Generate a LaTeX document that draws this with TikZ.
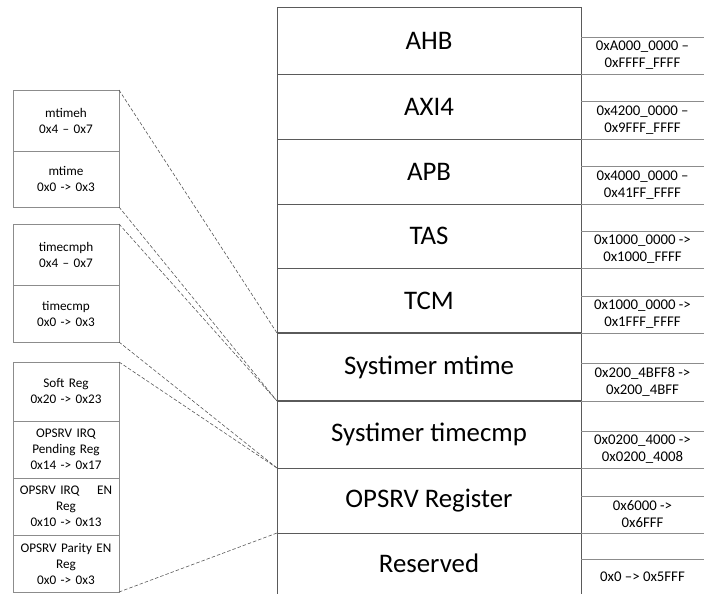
\documentclass[tikz,border=0pt]{standalone}
\usepackage{fontspec}
\setmainfont{Carlito}
\definecolor{mainline}{HTML}{5A5A5A}
\definecolor{sideline}{HTML}{8C8C8C}
\definecolor{dashline}{HTML}{595959}
\tikzset{
  mrow/.style={draw=mainline, line width=0.8pt, rectangle, inner sep=0pt, outer sep=0pt,
    minimum width=304pt, anchor=north west, font=\fontsize{26.8}{32}\selectfont},
  addr/.style={rectangle, inner sep=0pt, outer sep=0pt, minimum width=123pt,
    anchor=north west, align=center, font=\fontsize{14.8}{17}\selectfont},
  reg/.style={draw=sideline, line width=0.8pt, rectangle, inner sep=0pt, outer sep=0pt,
    minimum width=106pt, text width=104pt, anchor=north west, align=center,
    font=\fontsize{13.2}{16}\selectfont},
  link/.style={draw=dashline, line width=0.6pt, dash pattern=on 3.5pt off 2pt},
  addrline/.style={draw=sideline, line width=0.8pt},
}
\begin{document}
\begin{tikzpicture}[x=1pt,y=-1pt]
\useasboundingbox (0,0) rectangle (704,594);

% main memory map column
\node[mrow, minimum height=67pt] (ahb)  at (277,7)   {AHB};
\node[mrow, minimum height=65pt] (axi)  at (277,74)  {AXI4};
\node[mrow, minimum height=65pt] (apb)  at (277,139) {APB};
\node[mrow, minimum height=64pt] (tas)  at (277,204) {TAS};
\node[mrow, minimum height=65pt] (tcm)  at (277,268) {TCM};
\node[mrow, minimum height=68pt] (tms)  at (277,333) {Systimer mtime};
\node[mrow, minimum height=67pt] (tcmp) at (277,401) {Systimer timecmp};
\node[mrow, minimum height=65pt] (opsrv) at (277,468) {OPSRV Register};
\node[mrow, draw=none, minimum height=61pt] (res) at (277,533) {Reserved};
\draw[mainline, line width=0.8pt] (res.north west) -- (res.south west)
  (res.north east) -- (res.south east);
\draw[mainline, line width=1.6pt] (tms.north west) -- (tms.north east)
  (tms.south west) -- (tms.south east);

% address ranges
\node[addr, minimum height=37pt] (a1) at (581,37)  {0xA000\_0000 –\\0xFFFF\_FFFF};
\node[addr, minimum height=38pt] (a2) at (581,101) {0x4200\_0000 –\\0x9FFF\_FFFF};
\node[addr, minimum height=38pt] (a3) at (581,166) {0x4000\_0000 –\\0x41FF\_FFFF};
\node[addr, minimum height=37pt] (a4) at (581,231) {0x1000\_0000 ->\\0x1000\_FFFF};
\node[addr, minimum height=37pt] (a5) at (581,296) {0x1000\_0000 ->\\0x1FFF\_FFFF};
\node[addr, minimum height=38pt] (a6) at (581,363) {0x200\_4BFF8 ->\\0x200\_4BFF};
\node[addr, minimum height=37pt] (a7) at (581,431) {0x0200\_4000 ->\\0x0200\_4008};
\node[addr, minimum height=37pt] (a8) at (581,496) {0x6000 ->\\0x6FFF};
\node[addr, minimum height=35pt] (a9) at (581,559) {0x0 –> 0x5FFF};
\foreach \n in {a1,a2,a3,a4,a5,a6,a7,a8}
  \draw[addrline] (\n.north west) -- (\n.north east) (\n.south west) -- (\n.south east);
\draw[addrline] (a9.north west) -- (a9.north east);

% timer registers
\node[reg, minimum height=61pt] (mtimeh) at (13,90)  {mtimeh\\0x4 – 0x7};
\node[reg, minimum height=56pt] (mtime)  at (13,151) {mtime\\0x0 -> 0x3};
\node[reg, minimum height=61pt] (cmph)   at (13,224) {timecmph\\0x4 – 0x7};
\node[reg, minimum height=57pt] (cmpl)   at (13,285) {timecmp\\0x0 -> 0x3};

% OPSRV registers
\node[reg, minimum height=59pt] (soft)   at (13,362) {Soft Reg\\0x20 -> 0x23};
\node[reg, minimum height=57pt] (pend)   at (13,421) {OPSRV IRQ\\Pending Reg\\0x14 -> 0x17};
\node[reg, minimum height=57pt] (irqen)  at (13,478) {OPSRV IRQ\hspace{1em} EN\\Reg\\0x10 -> 0x13};
\node[reg, minimum height=57pt] (parity) at (13,535) {OPSRV Parity EN\\Reg\\0x0 -> 0x3};

% expansion links
\draw[link] (mtimeh.north east) -- (tms.north west);
\draw[link] (mtime.south east) -- (tms.south west);
\draw[link] (cmph.north east) -- (tcmp.north west);
\draw[link] (cmpl.south east) -- (tcmp.south west);
\draw[link] (soft.north east) -- (opsrv.north west);
\draw[link] (parity.south east) -- (opsrv.south west);
\end{tikzpicture}
\end{document}
